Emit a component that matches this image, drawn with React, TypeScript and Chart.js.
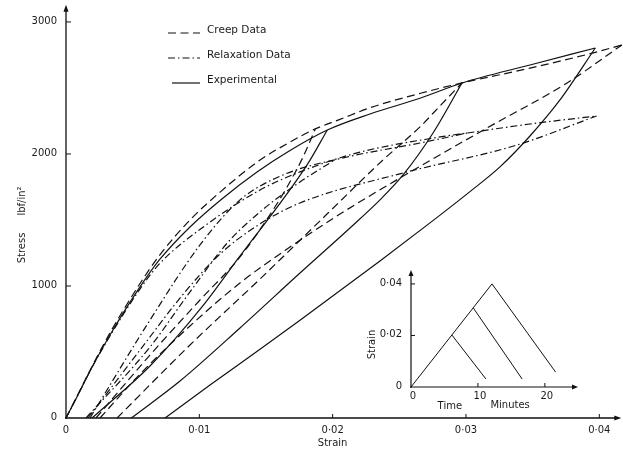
import React, { useEffect, useRef } from "react";
import { Chart, registerables } from "chart.js";
Chart.register(...registerables);

// ---------- main chart data (strain, stress lbf/in²) ----------
const expLoadStrain = [0, 0.0007, 0.002, 0.0033, 0.0054, 0.007, 0.0093, 0.0116, 0.0143, 0.0168, 0.0196, 0.0228, 0.0266, 0.0297, 0.0348, 0.0397];
const expLoadStress = [0, 136, 394, 629, 970, 1197, 1447, 1652, 1862, 2027, 2182, 2303, 2424, 2538, 2674, 2803];
const expUn1Strain = [0.00195, 0.0063, 0.0102, 0.01283, 0.01808, 0.0196];
const expUn1Stress = [0, 394, 841, 1197, 1917, 2182];
const expUn2Strain = [0.0049, 0.00855, 0.01305, 0.01755, 0.0213, 0.02355, 0.02528, 0.02753, 0.0297];
const expUn2Stress = [0, 280, 682, 1098, 1439, 1652, 1841, 2159, 2538];
const expUn3Strain = [0.00743, 0.0108, 0.01455, 0.01755, 0.02355, 0.0273, 0.0303, 0.03255, 0.0348, 0.03705, 0.0397];
const expUn3Stress = [0, 250, 520, 740, 1190, 1478, 1715, 1902, 2136, 2409, 2803];

const creepLoadStrain = [0, 0.0007, 0.002, 0.0033, 0.0054, 0.007, 0.0093, 0.0116, 0.0145, 0.0168, 0.0187, 0.0205, 0.0228, 0.0266, 0.0297, 0.0348, 0.0397, 0.0417];
const creepLoadStress = [0, 140, 400, 645, 995, 1230, 1500, 1715, 1950, 2090, 2190, 2260, 2350, 2460, 2538, 2650, 2770, 2826];
const creepUn1Strain = [0.00225, 0.0063, 0.01005, 0.01305, 0.01553, 0.01658, 0.01778, 0.0187];
const creepUn1Stress = [0, 477, 894, 1220, 1576, 1750, 1977, 2190];
const creepUn2Strain = [0.00383, 0.0093, 0.01455, 0.01958, 0.02378, 0.02655, 0.02805, 0.0297];
const creepUn2Stress = [0, 553, 1053, 1545, 1955, 2205, 2364, 2538];
const creepUn3Strain = [0.00255, 0.00555, 0.0093, 0.01305, 0.0168, 0.02055, 0.02505, 0.03158, 0.03758, 0.0417];
const creepUn3Stress = [0, 333, 697, 1023, 1295, 1545, 1818, 2197, 2538, 2826];

const relaxLoadStrain = [0, 0.0007, 0.002, 0.0033, 0.0054, 0.007, 0.0103, 0.01455, 0.01755, 0.02183, 0.02805, 0.0301, 0.0348, 0.0398];
const relaxLoadStress = [0, 136, 394, 621, 955, 1167, 1447, 1727, 1864, 2008, 2129, 2159, 2227, 2288];
const relaxUn1Strain = [0.0015, 0.0063, 0.0093, 0.0121, 0.01455, 0.01755, 0.02003];
const relaxUn1Stress = [0, 538, 955, 1326, 1561, 1788, 1947];
const relaxUn2Strain = [0.0018, 0.0063, 0.01005, 0.01305, 0.01628, 0.02108, 0.02655, 0.0301];
const relaxUn2Stress = [0, 742, 1311, 1652, 1841, 1977, 2083, 2159];
const relaxUn3Strain = [0.00165, 0.00555, 0.00893, 0.01155, 0.01455, 0.01755, 0.02528, 0.03383, 0.0398];
const relaxUn3Stress = [0, 515, 955, 1242, 1470, 1629, 1856, 2068, 2288];

const xTicks = [0, 0.01, 0.02, 0.03, 0.04];
const xTickLabels = ["0", "0·01", "0·02", "0·03", "0·04"];
const yTicks = [0, 1000, 2000, 3000];
const yTickLabels = ["0", "1000", "2000", "3000"];
const legendLabels = ["Creep Data", "Relaxation Data", "Experimental"];

// ---------- inset data (time min, strain) ----------
const insetLoadTime = [0, 12.1];
const insetLoadStrain = [0, 0.04];
const insetUn1Time = [6.1, 11.2];
const insetUn1Strain = [0.0202, 0.0031];
const insetUn2Time = [9.3, 16.6];
const insetUn2Strain = [0.0307, 0.0031];
const insetUn3Time = [12.1, 21.6];
const insetUn3Strain = [0.04, 0.0058];
const insetXTicks = [0, 10, 20];
const insetXTickLabels = ["0", "10", "20"];
const insetYTicks = [0, 0.02, 0.04];
const insetYTickLabels = ["0", "0·02", "0·04"];

const INK = "#111";
const FONT = '"DejaVu Sans", sans-serif';
const DASH_CREEP = [8, 4.5];
const DASH_RELAX = [7, 3, 1.5, 3];

const pts = (xs: number[], ys: number[]) => xs.map((x, i) => ({ x, y: ys[i] }));

const ds = (xs: number[], ys: number[], dash: number[]) => ({
  data: pts(xs, ys),
  borderColor: INK,
  borderWidth: 1.2,
  borderDash: dash,
  pointRadius: 0,
  fill: false,
  cubicInterpolationMode: "monotone" as const,
  clip: false as const,
});

function arrowHead(ctx: CanvasRenderingContext2D, x: number, y: number, dir: "up" | "right", s = 7) {
  ctx.beginPath();
  if (dir === "up") {
    ctx.moveTo(x, y);
    ctx.lineTo(x - 2.5, y + s);
    ctx.lineTo(x + 2.5, y + s);
  } else {
    ctx.moveTo(x, y);
    ctx.lineTo(x - s, y - 2.5);
    ctx.lineTo(x - s, y + 2.5);
  }
  ctx.closePath();
  ctx.fill();
}

const mainDecor = {
  id: "mainDecor",
  afterDraw(chart: any) {
    const { ctx, chartArea, scales } = chart;
    const xs = scales.x;
    const ys = scales.y;
    const x0 = xs.getPixelForValue(0);
    const y0 = ys.getPixelForValue(0);
    ctx.save();
    ctx.strokeStyle = INK;
    ctx.fillStyle = INK;
    ctx.lineWidth = 1.3;
    ctx.setLineDash([]);
    ctx.beginPath();
    ctx.moveTo(x0, y0 + 1);
    ctx.lineTo(x0, chartArea.top + 4);
    ctx.moveTo(x0 - 1, y0);
    ctx.lineTo(chartArea.right - 2, y0);
    ctx.stroke();
    arrowHead(ctx, x0, chartArea.top, "up");
    arrowHead(ctx, chartArea.right + 2, y0, "right");
    ctx.lineWidth = 1;
    ctx.beginPath();
    yTicks.forEach((v) => {
      if (v === 0) return;
      const py = ys.getPixelForValue(v);
      ctx.moveTo(x0, py);
      ctx.lineTo(x0 + 5, py);
    });
    xTicks.forEach((v) => {
      if (v === 0) return;
      const px = xs.getPixelForValue(v);
      ctx.moveTo(px, y0);
      ctx.lineTo(px, y0 - 4);
    });
    ctx.stroke();
    ctx.font = `10px ${FONT}`;
    ctx.fillStyle = "#1a1a1a";
    ctx.textAlign = "right";
    ctx.textBaseline = "middle";
    yTicks.forEach((v, i) => ctx.fillText(yTickLabels[i], x0 - 9, ys.getPixelForValue(v) - 1));
    ctx.textAlign = "center";
    xTicks.forEach((v, i) => ctx.fillText(xTickLabels[i], xs.getPixelForValue(v), y0 + 12));
    ctx.fillText("Strain", xs.getPixelForValue(0.02), y0 + 25);
    ctx.save();
    ctx.translate(22, 0);
    ctx.rotate(-Math.PI / 2);
    ctx.fillText("Stress", -248, 0);
    ctx.fillText("lbf/in²", -201, 0);
    ctx.restore();
    const dashes = [DASH_CREEP, DASH_RELAX, []];
    const ly = [30, 55, 80];
    ctx.font = `10.5px ${FONT}`;
    ctx.textAlign = "left";
    legendLabels.forEach((lab, i) => {
      ctx.setLineDash(dashes[i]);
      ctx.lineWidth = 1.2;
      ctx.beginPath();
      ctx.moveTo(i === 2 ? 172 : 168, ly[i] + 3);
      ctx.lineTo(200, ly[i] + 3);
      ctx.stroke();
      ctx.setLineDash([]);
      ctx.fillText(lab, 207, ly[i]);
    });
    ctx.restore();
  },
};

const insetDecor = {
  id: "insetDecor",
  afterDraw(chart: any) {
    const { ctx, chartArea, scales } = chart;
    const xs = scales.x;
    const ys = scales.y;
    const x0 = xs.getPixelForValue(0);
    const y0 = ys.getPixelForValue(0);
    ctx.save();
    ctx.strokeStyle = INK;
    ctx.fillStyle = INK;
    ctx.lineWidth = 1.2;
    ctx.beginPath();
    ctx.moveTo(x0, y0 + 1);
    ctx.lineTo(x0, chartArea.top + 4);
    ctx.moveTo(x0 - 1, y0);
    ctx.lineTo(chartArea.right - 3, y0);
    ctx.stroke();
    arrowHead(ctx, x0, chartArea.top, "up", 6);
    arrowHead(ctx, chartArea.right + 1, y0, "right", 6);
    ctx.lineWidth = 1;
    ctx.beginPath();
    insetYTicks.forEach((v) => {
      if (v === 0) return;
      const py = ys.getPixelForValue(v);
      ctx.moveTo(x0, py);
      ctx.lineTo(x0 + 4, py);
    });
    insetXTicks.forEach((v) => {
      if (v === 0) return;
      const px = xs.getPixelForValue(v);
      ctx.moveTo(px, y0);
      ctx.lineTo(px, y0 - 4);
    });
    ctx.stroke();
    ctx.font = `10px ${FONT}`;
    ctx.fillStyle = "#1a1a1a";
    ctx.textAlign = "right";
    ctx.textBaseline = "middle";
    insetYTicks.forEach((v, i) => ctx.fillText(insetYTickLabels[i], x0 - 9, ys.getPixelForValue(v) - 1));
    ctx.textAlign = "center";
    insetXTicks.forEach((v, i) => ctx.fillText(insetXTickLabels[i], xs.getPixelForValue(v) + 2, y0 + 9));
    ctx.fillText("Time", xs.getPixelForValue(5.8), y0 + 19);
    ctx.fillText("Minutes", xs.getPixelForValue(14.8), y0 + 18);
    ctx.save();
    ctx.translate(xs.getPixelForValue(0) - 39, ys.getPixelForValue(0.0165));
    ctx.rotate(-Math.PI / 2);
    ctx.fillText("Strain", 0, 0);
    ctx.restore();
    ctx.restore();
  },
};

export default function App() {
  const mainRef = useRef<HTMLCanvasElement | null>(null);
  const insetRef = useRef<HTMLCanvasElement | null>(null);

  useEffect(() => {
    if (!mainRef.current || !insetRef.current) return;
    const main = new Chart(mainRef.current, {
      type: "line",
      data: {
        datasets: [
          ds(expLoadStrain, expLoadStress, []),
          ds(expUn1Strain, expUn1Stress, []),
          ds(expUn2Strain, expUn2Stress, []),
          ds(expUn3Strain, expUn3Stress, []),
          ds(creepLoadStrain, creepLoadStress, DASH_CREEP),
          ds(creepUn1Strain, creepUn1Stress, DASH_CREEP),
          ds(creepUn2Strain, creepUn2Stress, DASH_CREEP),
          ds(creepUn3Strain, creepUn3Stress, DASH_CREEP),
          ds(relaxLoadStrain, relaxLoadStress, DASH_RELAX),
          ds(relaxUn1Strain, relaxUn1Stress, DASH_RELAX),
          ds(relaxUn2Strain, relaxUn2Stress, DASH_RELAX),
          ds(relaxUn3Strain, relaxUn3Stress, DASH_RELAX),
        ] as any,
      },
      options: {
        responsive: false,
        animation: false,
        layout: { padding: { left: 0, right: 3.7, top: 4.8, bottom: 0 } },
        plugins: { legend: { display: false }, tooltip: { enabled: false } },
        scales: {
          x: {
            type: "linear",
            min: 0,
            max: 0.0415,
            ticks: { display: false },
            grid: { display: false },
            border: { display: false },
            afterFit: (s: any) => {
              s.height = 34;
            },
          },
          y: {
            type: "linear",
            min: 0,
            max: 3130,
            ticks: { display: false },
            grid: { display: false },
            border: { display: false },
            afterFit: (s: any) => {
              s.width = 66;
            },
          },
        },
      } as any,
      plugins: [mainDecor],
    });

    const inset = new Chart(insetRef.current, {
      type: "line",
      data: {
        datasets: [
          ds(insetLoadTime, insetLoadStrain, []),
          ds(insetUn1Time, insetUn1Strain, []),
          ds(insetUn2Time, insetUn2Strain, []),
          ds(insetUn3Time, insetUn3Strain, []),
        ].map((d) => ({ ...d, borderWidth: 1, cubicInterpolationMode: "default", tension: 0 })) as any,
      },
      options: {
        responsive: false,
        animation: false,
        layout: { padding: { left: 0, right: 18, top: 8, bottom: 0 } },
        plugins: { legend: { display: false }, tooltip: { enabled: false } },
        scales: {
          x: {
            type: "linear",
            min: 0,
            max: 24.8,
            ticks: { display: false },
            grid: { display: false },
            border: { display: false },
            afterFit: (s: any) => {
              s.height = 25;
            },
          },
          y: {
            type: "linear",
            min: 0,
            max: 0.0454,
            ticks: { display: false },
            grid: { display: false },
            border: { display: false },
            afterFit: (s: any) => {
              s.width = 56;
            },
          },
        },
      } as any,
      plugins: [insetDecor],
    });

    return () => {
      main.destroy();
      inset.destroy();
    };
  }, []);

  return (
    <div style={{ position: "fixed", left: 0, top: 0, width: 623, height: 452, background: "#fff" }}>
      <canvas ref={mainRef} width={623} height={452} style={{ position: "absolute", left: 0, top: 0 }} />
      <canvas ref={insetRef} width={240} height={150} style={{ position: "absolute", left: 355, top: 262 }} />
    </div>
  );
}
